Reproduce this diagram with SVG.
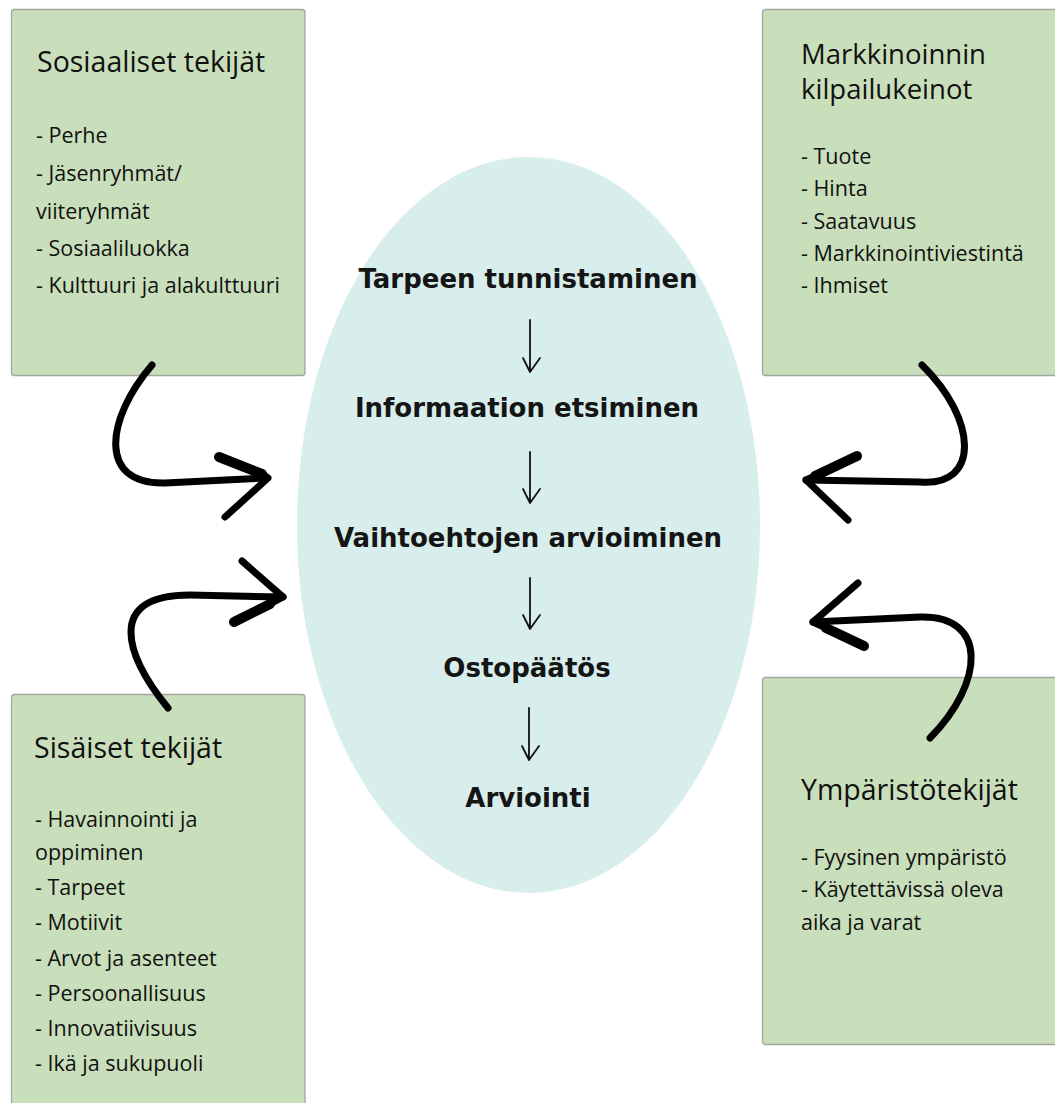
<svg xmlns="http://www.w3.org/2000/svg" width="1055" height="1103" viewBox="0 0 1055 1103">
<style>
.box{fill:#c9dfbb;stroke:#a3a89f;stroke-width:1.3}
.title{font-family:"Open Sans","Noto Sans",sans-serif;font-size:28.5px;fill:#111}
.t2{font-size:27.5px}
.item{font-family:"Open Sans","Noto Sans",sans-serif;font-size:21.5px;fill:#111}
.step{font-family:"DejaVu Sans","Liberation Sans",sans-serif;font-weight:bold;font-size:26px;fill:#151515;text-anchor:middle}
.big{fill:none;stroke:#000;stroke-width:7;stroke-linecap:round;stroke-linejoin:round}
.thick{fill:none;stroke:#000;stroke-width:10;stroke-linecap:round}
.small{fill:none;stroke:#111;stroke-width:1.8;stroke-linecap:round;stroke-linejoin:round}
</style>
<rect width="1055" height="1103" fill="#fff"/>
<g id="process">
<ellipse cx="528.5" cy="525" rx="231.5" ry="368" fill="#d8eeec"/>
<text class="step" x="528" y="288">Tarpeen tunnistaminen</text>
<text class="step" x="527" y="417">Informaation etsiminen</text>
<text class="step" x="528" y="547">Vaihtoehtojen arvioiminen</text>
<text class="step" x="527" y="677">Ostopäätös</text>
<text class="step" x="528" y="807">Arviointi</text>
</g>
<g id="sosiaaliset">
<rect class="box" x="11.5" y="9.5" width="293.5" height="366" rx="3"/>
<text class="title" x="37" y="72">Sosiaaliset tekijät</text>
<text class="item" x="36" y="143">- Perhe</text>
<text class="item" x="36" y="181">- Jäsenryhmät/</text>
<text class="item" x="36" y="219">viiteryhmät</text>
<text class="item" x="36" y="256">- Sosiaaliluokka</text>
<text class="item" x="36" y="293">- Kulttuuri ja alakulttuuri</text>
</g>
<g id="markkinointi">
<rect class="box" x="762.5" y="9.5" width="300" height="366" rx="3"/>
<text class="title t2" x="801" y="64">Markkinoinnin</text>
<text class="title t2" x="801" y="99">kilpailukeinot</text>
<text class="item" x="801" y="164">- Tuote</text>
<text class="item" x="801" y="196">- Hinta</text>
<text class="item" x="801" y="229">- Saatavuus</text>
<text class="item" x="801" y="261">- Markkinointiviestintä</text>
<text class="item" x="801" y="293">- Ihmiset</text>
</g>
<g id="sisaiset">
<rect class="box" x="11.5" y="694.5" width="293.5" height="420" rx="3"/>
<text class="title" x="34" y="758">Sisäiset tekijät</text>
<text class="item" x="35" y="827">- Havainnointi ja</text>
<text class="item" x="35" y="860">oppiminen</text>
<text class="item" x="35" y="895">- Tarpeet</text>
<text class="item" x="35" y="930">- Motiivit</text>
<text class="item" x="35" y="966">- Arvot ja asenteet</text>
<text class="item" x="35" y="1001">- Persoonallisuus</text>
<text class="item" x="35" y="1036">- Innovatiivisuus</text>
<text class="item" x="35" y="1071">- Ikä ja sukupuoli</text>
</g>
<g id="ymparisto">
<rect class="box" x="762.5" y="677.5" width="300" height="367" rx="3"/>
<text class="title" x="801" y="800">Ympäristötekijät</text>
<text class="item" x="801" y="865">- Fyysinen ympäristö</text>
<text class="item" x="801" y="897">- Käytettävissä oleva</text>
<text class="item" x="801" y="930">aika ja varat</text>
</g>
<g id="connectors">
<path class="small" d="M530,320 V372 M523,358 L530,372 L540,358"/>
<path class="small" d="M530,452 V503 M523,489 L530,503 L540,489"/>
<path class="small" d="M530,578 V629 M523,615 L530,629 L540,615"/>
<path class="small" d="M529,708 V760 M522,746 L529,760 L539,746"/>
<path class="big" d="M152,365 C105,420 98,485 165,483 L266,478"/>
<path class="thick" d="M219,457 L262,474"/>
<path class="big" d="M262,474 L268,478 L225,517"/>
<path class="big" d="M168,708 C125,655 105,595 190,595 L283,597"/>
<path class="big" d="M242,561 L283,597 L270,604"/>
<path class="thick" d="M270,604 L234,622"/>
<path class="big" d="M922,365 C978,420 980,487 920,482 L806,480"/>
<path class="thick" d="M857,456 L815,476"/>
<path class="big" d="M815,476 L806,480 L848,520"/>
<path class="big" d="M930,738 C985,682 988,615 920,617 L813,622"/>
<path class="big" d="M858,583 L813,622 L826,628"/>
<path class="thick" d="M826,628 L864,646"/>
</g>
</svg>
